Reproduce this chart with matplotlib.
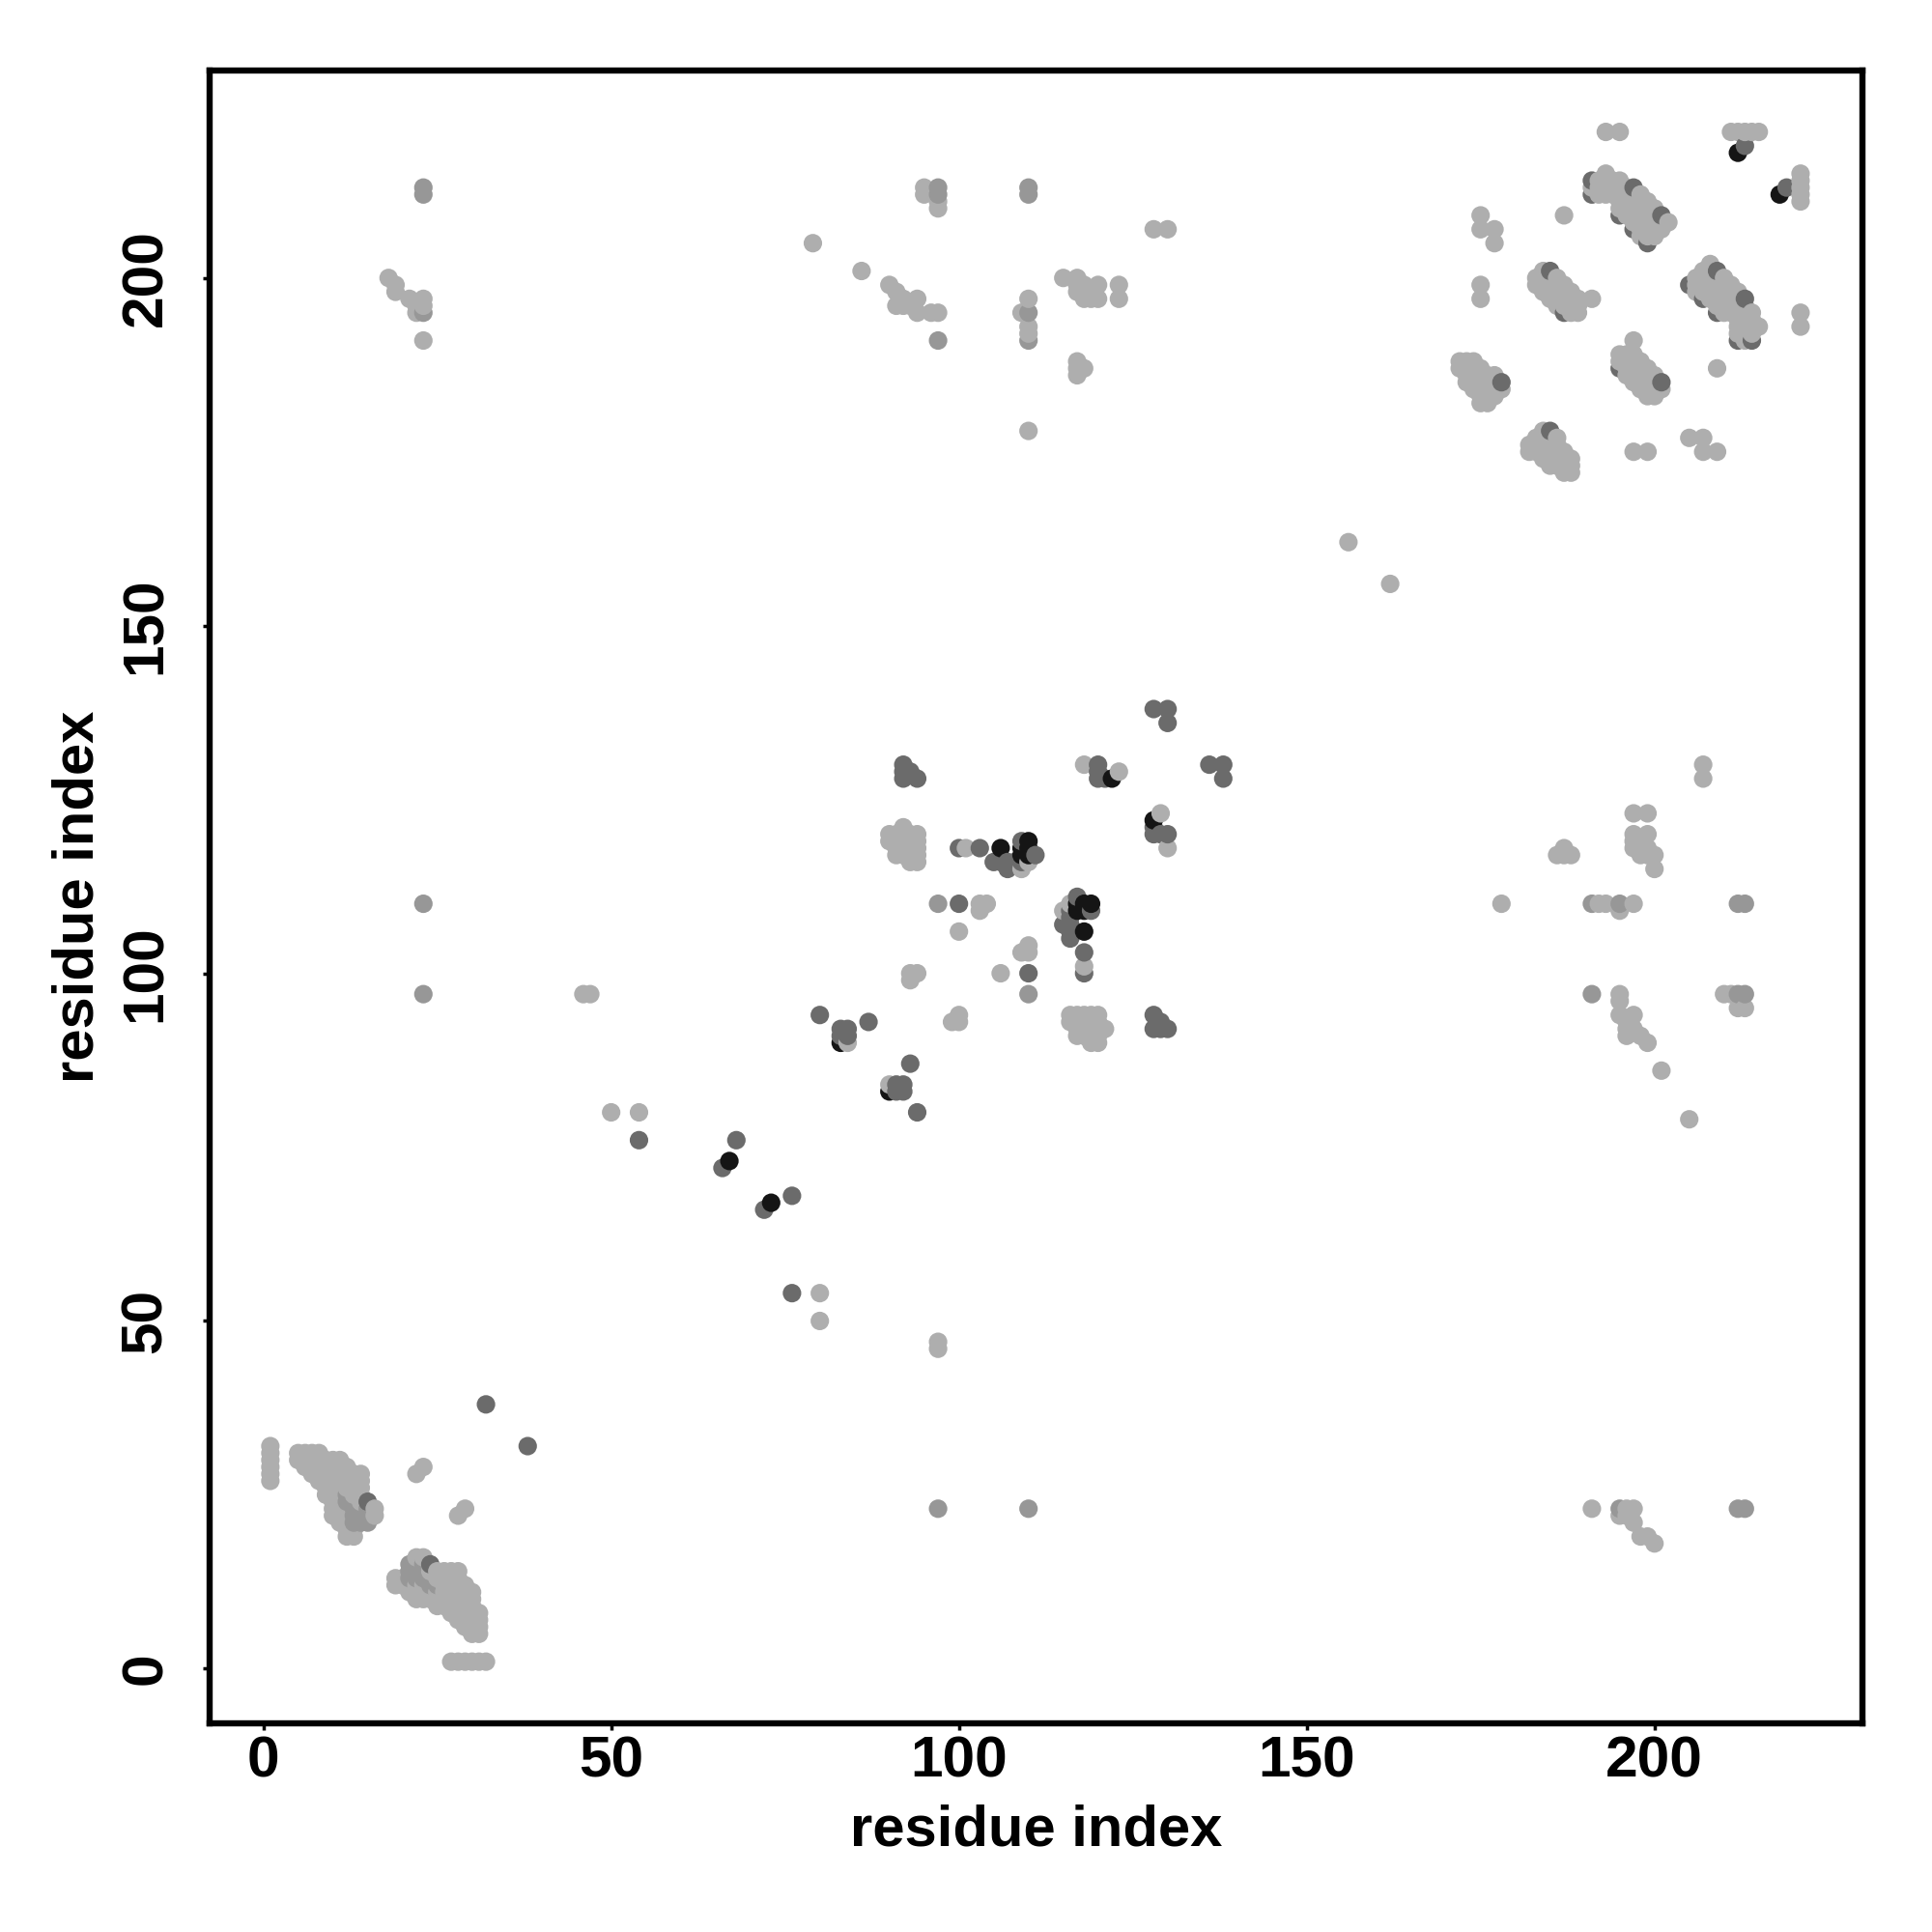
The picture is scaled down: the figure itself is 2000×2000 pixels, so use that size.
import numpy as np
import matplotlib
matplotlib.use("Agg")
import matplotlib.pyplot as plt

plt.rcParams['font.family'] = ['Liberation Sans', 'DejaVu Sans']

# contacts: residue i -> residues j (each contact is drawn at (i, j) and (j, i))
light_contacts = [
    (1, [27, 28, 29, 30, 31, 32]),
    (5, [30, 31]), (6, [29, 30, 31]), (7, [28, 29, 30, 31]), (8, [27, 28, 29, 30, 31]),
    (9, [25, 26, 27, 28, 29, 30]), (10, [22, 23, 24, 25, 26, 27, 28, 29, 30]),
    (11, [21, 22, 23, 24, 25, 26, 27, 28, 29, 30]),
    (12, [19, 20, 21, 22, 23, 26, 27, 28, 29]),
    (13, [19, 20, 25, 26, 27, 28]), (14, [24, 25, 26, 27, 28]), (16, [22, 23]),
    (18, [200]), (19, [198, 199]), (21, [197]), (22, [28, 195, 196]), (23, [29, 191, 196, 197]),
    (28, [22]), (46, [97]), (47, [97]), (50, [80]), (54, [80]),
    (79, [205]), (84, [90]), (86, [201]),
    (90, [119, 120, 199]), (91, [117, 118, 119, 120, 196, 198]),
    (92, [117, 118, 119, 120, 121, 196, 197]), (93, [99, 100, 116, 117, 118, 119, 120, 196]),
    (94, [100, 116, 117, 118, 119, 120, 195, 197]), (95, [212, 213]), (96, [195]),
    (97, [195, 210, 211]), (100, [106]), (101, [118]), (103, [109, 110]), (104, [110]),
    (109, [115, 195]), (110, [116, 178, 192, 193, 197]), (115, [200]), (116, [110]),
    (117, [186, 187, 188, 198, 199, 200]), (118, [130, 187, 197, 198, 199]),
    (119, [197, 198]), (120, [197, 199]), (123, [129, 197, 199]),
    (128, [207]), (130, [207]), (156, [162]),
    (172, [187, 188]), (173, [185, 186, 187, 188]), (174, [184, 185, 186, 187, 188]),
    (175, [182, 183, 184, 185, 186, 187, 197, 199, 207, 209]),
    (176, [182, 183, 184, 185, 186]), (177, [183, 184, 185, 186, 205, 207]),
    (178, [110, 184]),
    (183, [199, 200]), (184, [198, 199, 200, 201]), (185, [197, 198, 199, 200]),
    (186, [196, 197, 198, 199, 200]), (187, [196, 197, 198, 199, 209]),
    (188, [195, 196, 197, 198]), (189, [195, 196, 197]), (191, [197, 213]),
    (192, [212, 213, 214]), (193, [212, 213, 214, 215, 221]), (194, [212, 213, 214]),
    (195, [210, 211, 212, 213, 214, 221]), (196, [209, 210, 211, 212, 213]),
    (197, [208, 209, 210, 211, 212]), (198, [206, 207, 208, 209, 210, 211, 212]),
    (199, [206, 207, 208, 209, 210, 211]), (200, [206, 207, 208, 209, 210]),
    (201, [207, 208]), (202, [208]),
    (193, [221]), (211, [221]), (212, [221]), (213, [221]), (214, [221]), (215, [221]),
]
mid_contacts = [
    (15, [21, 22, 23]), (12, [24, 25]), (13, [21, 22, 23, 24]), (14, [21, 22, 23]),
    (23, [97, 110, 195, 212, 213]), (97, [110, 191, 212, 213]),
    (110, [191, 195, 212, 213]),
]
dark_contacts = [
    (15, [24]), (32, [38]), (54, [76]), (66, [72]), (68, [76]),
    (80, [94]), (83, [91, 92]), (84, [91, 92]), (87, [93]),
    (92, [128, 129, 130]), (93, [129]), (94, [128]),
    (100, [110, 118]), (103, [118]), (105, [116]), (106, [116]), (107, [115, 116]),
    (108, [116]), (109, [116, 119]), (111, [117]),
    (120, [128, 129, 130]), (121, [128]), (128, [138]), (130, [136, 138]),
    (178, [185]), (185, [201]), (187, [195]),
    (191, [212, 214]), (195, [209]), (197, [207, 213]), (199, [205]), (201, [209]),
    (213, [219]),
]
black_contacts = [
    (67, [73]), (83, [90]), (106, [118]), (109, [117, 118]), (110, [117, 118, 119]),
    (122, [128]), (212, [218]),
]
level_greys = {"light": "#aeaeae", "mid": "#979797", "dark": "#6b6b6b", "black": "#151515"}
x_ticks = [0, 50, 100, 150, 200]
y_ticks = [0, 50, 100, 150, 200]
axis_label = "residue index"

# a pair listed at two levels takes the darker one
cell = {}
for name, table in [("light", light_contacts), ("mid", mid_contacts),
                    ("dark", dark_contacts), ("black", black_contacts)]:
    for i, js in table:
        for j in js:
            cell[(i, j)] = level_greys[name]
            cell[(j, i)] = level_greys[name]
# the plotted order runs by x, then y
keys = sorted(cell)
xs = [k[0] for k in keys]
ys = [k[1] for k in keys]
cs = [cell[k] for k in keys]

W = 2000
fig = plt.figure(figsize=(20, 20), dpi=100, facecolor="white")
L, R, T, B = 216.5, 1928, 72.5, 1783.5
ax = fig.add_axes([L / W, 1 - B / W, (R - L) / W, (B - T) / W])
ax.scatter(xs, ys, s=190, c=cs, linewidths=0, zorder=3)
ax.set_xlim(-7.8, 229.9)
ax.set_ylim(-7.8, 229.9)
for s in ax.spines.values():
    s.set_linewidth(4.6)
ax.set_xticks(x_ticks)
ax.set_yticks(y_ticks)
ax.tick_params(axis="both", length=5, width=2.5, labelsize=43.5)
ax.tick_params(axis="x", pad=4.5)
ax.tick_params(axis="y", pad=22)
for t in ax.get_xticklabels():
    t.set_fontweight("bold")
for t in ax.get_yticklabels():
    t.set_fontweight("bold")
    t.set_rotation(90)
    t.set_va("center")
ax.set_xlabel(axis_label, fontsize=43, fontweight="bold", labelpad=11.5)
ax.set_ylabel(axis_label, fontsize=43, fontweight="bold", labelpad=11)
fig.savefig("out.png", dpi=100, facecolor="white")
